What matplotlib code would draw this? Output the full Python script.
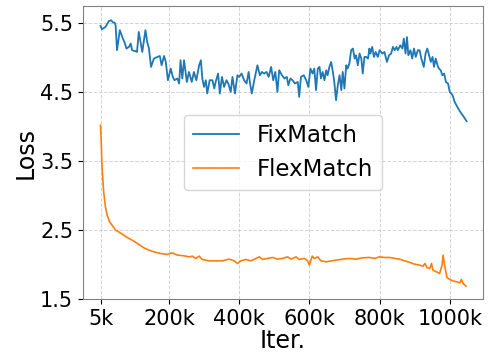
import matplotlib
matplotlib.use("Agg")
import matplotlib.pyplot as plt

# FixMatch loss (iterations in thousands)
fix_x = [5, 9, 19, 29, 35, 41, 45, 48, 52, 60, 67, 73, 79, 86, 91, 95, 105, 109, 114, 119,
         124, 129, 133, 138, 143, 149, 157, 167, 174, 179, 186, 191, 197, 205, 211, 216, 224, 229, 233, 238,
         243, 251, 257, 265, 271, 278, 286, 291, 295, 300, 305, 309, 316, 324, 329, 333, 340, 345, 351, 357,
         364, 369, 376, 381, 388, 395, 400, 407, 414, 421, 427, 431, 436, 443, 452, 459, 465, 471, 478, 484,
         491, 497, 503, 509, 514, 522, 529, 536, 540, 546, 552, 559, 567, 571, 576, 584, 591, 597, 603, 609,
         614, 619, 624, 629, 633, 638, 643, 648, 652, 657, 662, 667, 671, 676, 681, 686, 691, 695, 700, 705,
         709, 714, 719, 724, 729, 733, 738, 743, 748, 752, 757, 762, 767, 771, 774, 779, 784, 789, 795, 800,
         808, 814, 821, 827, 833, 838, 843, 848, 852, 859, 865, 869, 874, 878, 882, 888, 893, 898, 903, 909,
         914, 919, 926, 931, 936, 941, 946, 951, 955, 960, 965, 969, 974, 979, 984, 989, 995, 1000, 1008, 1014,
         1024, 1033, 1040, 1048]
fix_y = [5.461, 5.413, 5.446, 5.533, 5.543, 5.51, 5.51, 5.471, 5.109, 5.40, 5.30, 5.229, 5.133, 5.157, 5.206, 5.109, 5.094, 5.084, 5.374, 5.229,
         5.084, 5.254, 5.40, 5.229, 5.133, 4.867, 4.988, 5.012, 5.026, 4.891, 5.026, 4.939, 4.674, 4.843, 4.722, 4.674, 4.699, 4.626, 4.964, 4.699,
         4.964, 4.649, 4.794, 4.649, 4.794, 4.674, 4.891, 4.964, 4.699, 4.577, 4.674, 4.481, 4.674, 4.674, 4.554, 4.649, 4.771, 4.481, 4.722, 4.577,
         4.674, 4.626, 4.504, 4.722, 4.481, 4.746, 4.722, 4.771, 4.674, 4.626, 4.794, 4.626, 4.481, 4.674, 4.891, 4.746, 4.794, 4.771, 4.794, 4.722,
         4.867, 4.674, 4.794, 4.504, 4.819, 4.746, 4.699, 4.722, 4.601, 4.699, 4.674, 4.626, 4.649, 4.432, 4.722, 4.746, 4.674, 4.577, 4.843, 4.771,
         4.843, 4.529, 4.843, 4.867, 4.699, 4.794, 4.674, 4.819, 4.746, 4.867, 4.939, 4.794, 4.649, 4.384, 4.601, 4.746, 4.529, 4.794, 4.554, 4.891,
         4.843, 4.916, 5.109, 5.133, 4.988, 5.036, 4.891, 5.061, 4.988, 4.771, 5.012, 5.012, 4.988, 5.133, 5.061, 5.157, 5.012, 5.084, 5.012, 5.109,
         5.061, 5.084, 4.939, 5.036, 5.061, 5.157, 5.109, 5.157, 5.109, 5.181, 5.133, 5.278, 5.061, 5.30, 5.036, 5.109, 4.988, 5.133, 5.012, 5.109,
         5.109, 4.988, 4.867, 5.061, 5.133, 5.036, 4.939, 5.012, 4.867, 4.988, 4.891, 4.843, 4.819, 4.746, 4.771, 4.649, 4.626, 4.504, 4.457, 4.359,
         4.264, 4.191, 4.142, 4.08]

# FlexMatch loss (iterations in thousands)
flex_x = [5, 7, 9, 14, 19, 24, 31, 38, 48, 57, 71, 86, 100, 114, 129, 143, 157, 176, 195, 209,
          224, 243, 257, 267, 276, 286, 295, 314, 333, 352, 371, 386, 395, 405, 419, 433, 448, 457, 467, 481,
          495, 509, 524, 538, 548, 562, 571, 586, 595, 600, 608, 614, 624, 633, 648, 662, 676, 695, 714, 733,
          752, 771, 786, 800, 814, 829, 843, 857, 871, 886, 900, 914, 924, 929, 935, 943, 948, 952, 962, 971,
          978, 981, 986, 992, 1000, 1009, 1019, 1029, 1033, 1038, 1046]
flex_y = [4.022, 3.780, 3.442, 3.055, 2.837, 2.717, 2.620, 2.572, 2.500, 2.475, 2.428, 2.380, 2.341, 2.293, 2.243, 2.210, 2.186, 2.162, 2.148, 2.171,
          2.138, 2.128, 2.113, 2.123, 2.090, 2.123, 2.075, 2.055, 2.055, 2.055, 2.080, 2.055, 2.017, 2.055, 2.075, 2.055, 2.090, 2.113, 2.075, 2.090,
          2.104, 2.080, 2.090, 2.113, 2.080, 2.113, 2.075, 2.090, 2.055, 1.993, 2.123, 2.090, 2.113, 2.055, 2.041, 2.055, 2.065, 2.080, 2.090, 2.080,
          2.099, 2.104, 2.090, 2.113, 2.104, 2.104, 2.090, 2.080, 2.055, 2.032, 2.007, 1.993, 1.978, 2.017, 1.959, 1.944, 2.017, 1.920, 1.896, 1.872,
          1.993, 2.138, 1.968, 1.814, 1.785, 1.765, 1.751, 1.736, 1.785, 1.728, 1.688]

xticks = [5, 200, 400, 600, 800, 1000]
xtick_labels = ["5k", "200k", "400k", "600k", "800k", "1000k"]
yticks = [1.5, 2.5, 3.5, 4.5, 5.5]

fig = plt.figure(figsize=(4.88, 3.54), dpi=100)
ax = fig.add_axes([0.170, 0.155, 0.820, 0.828])
ax.plot(fix_x, fix_y, color="#1f77b4", lw=1.3, label="FixMatch")
ax.plot(flex_x, flex_y, color="#ff7f0e", lw=1.2, label="FlexMatch")
ax.set_xlim(-45, 1095)
ax.set_ylim(1.5, 5.75)
ax.set_xticks(xticks)
ax.set_xticklabels(xtick_labels)
ax.set_yticks(yticks)
ax.tick_params(labelsize=15)
ax.grid(True, linestyle="--", color="#c8c8c8", alpha=0.8, lw=0.7)
for s in ax.spines.values():
    s.set_color("#808080")
ax.set_xlabel("Iter.", fontsize=17, labelpad=0)
ax.set_ylabel("Loss", fontsize=17, labelpad=2)
ax.legend(loc="center", fontsize=16.5)
fig.savefig("out.png", dpi=100)
